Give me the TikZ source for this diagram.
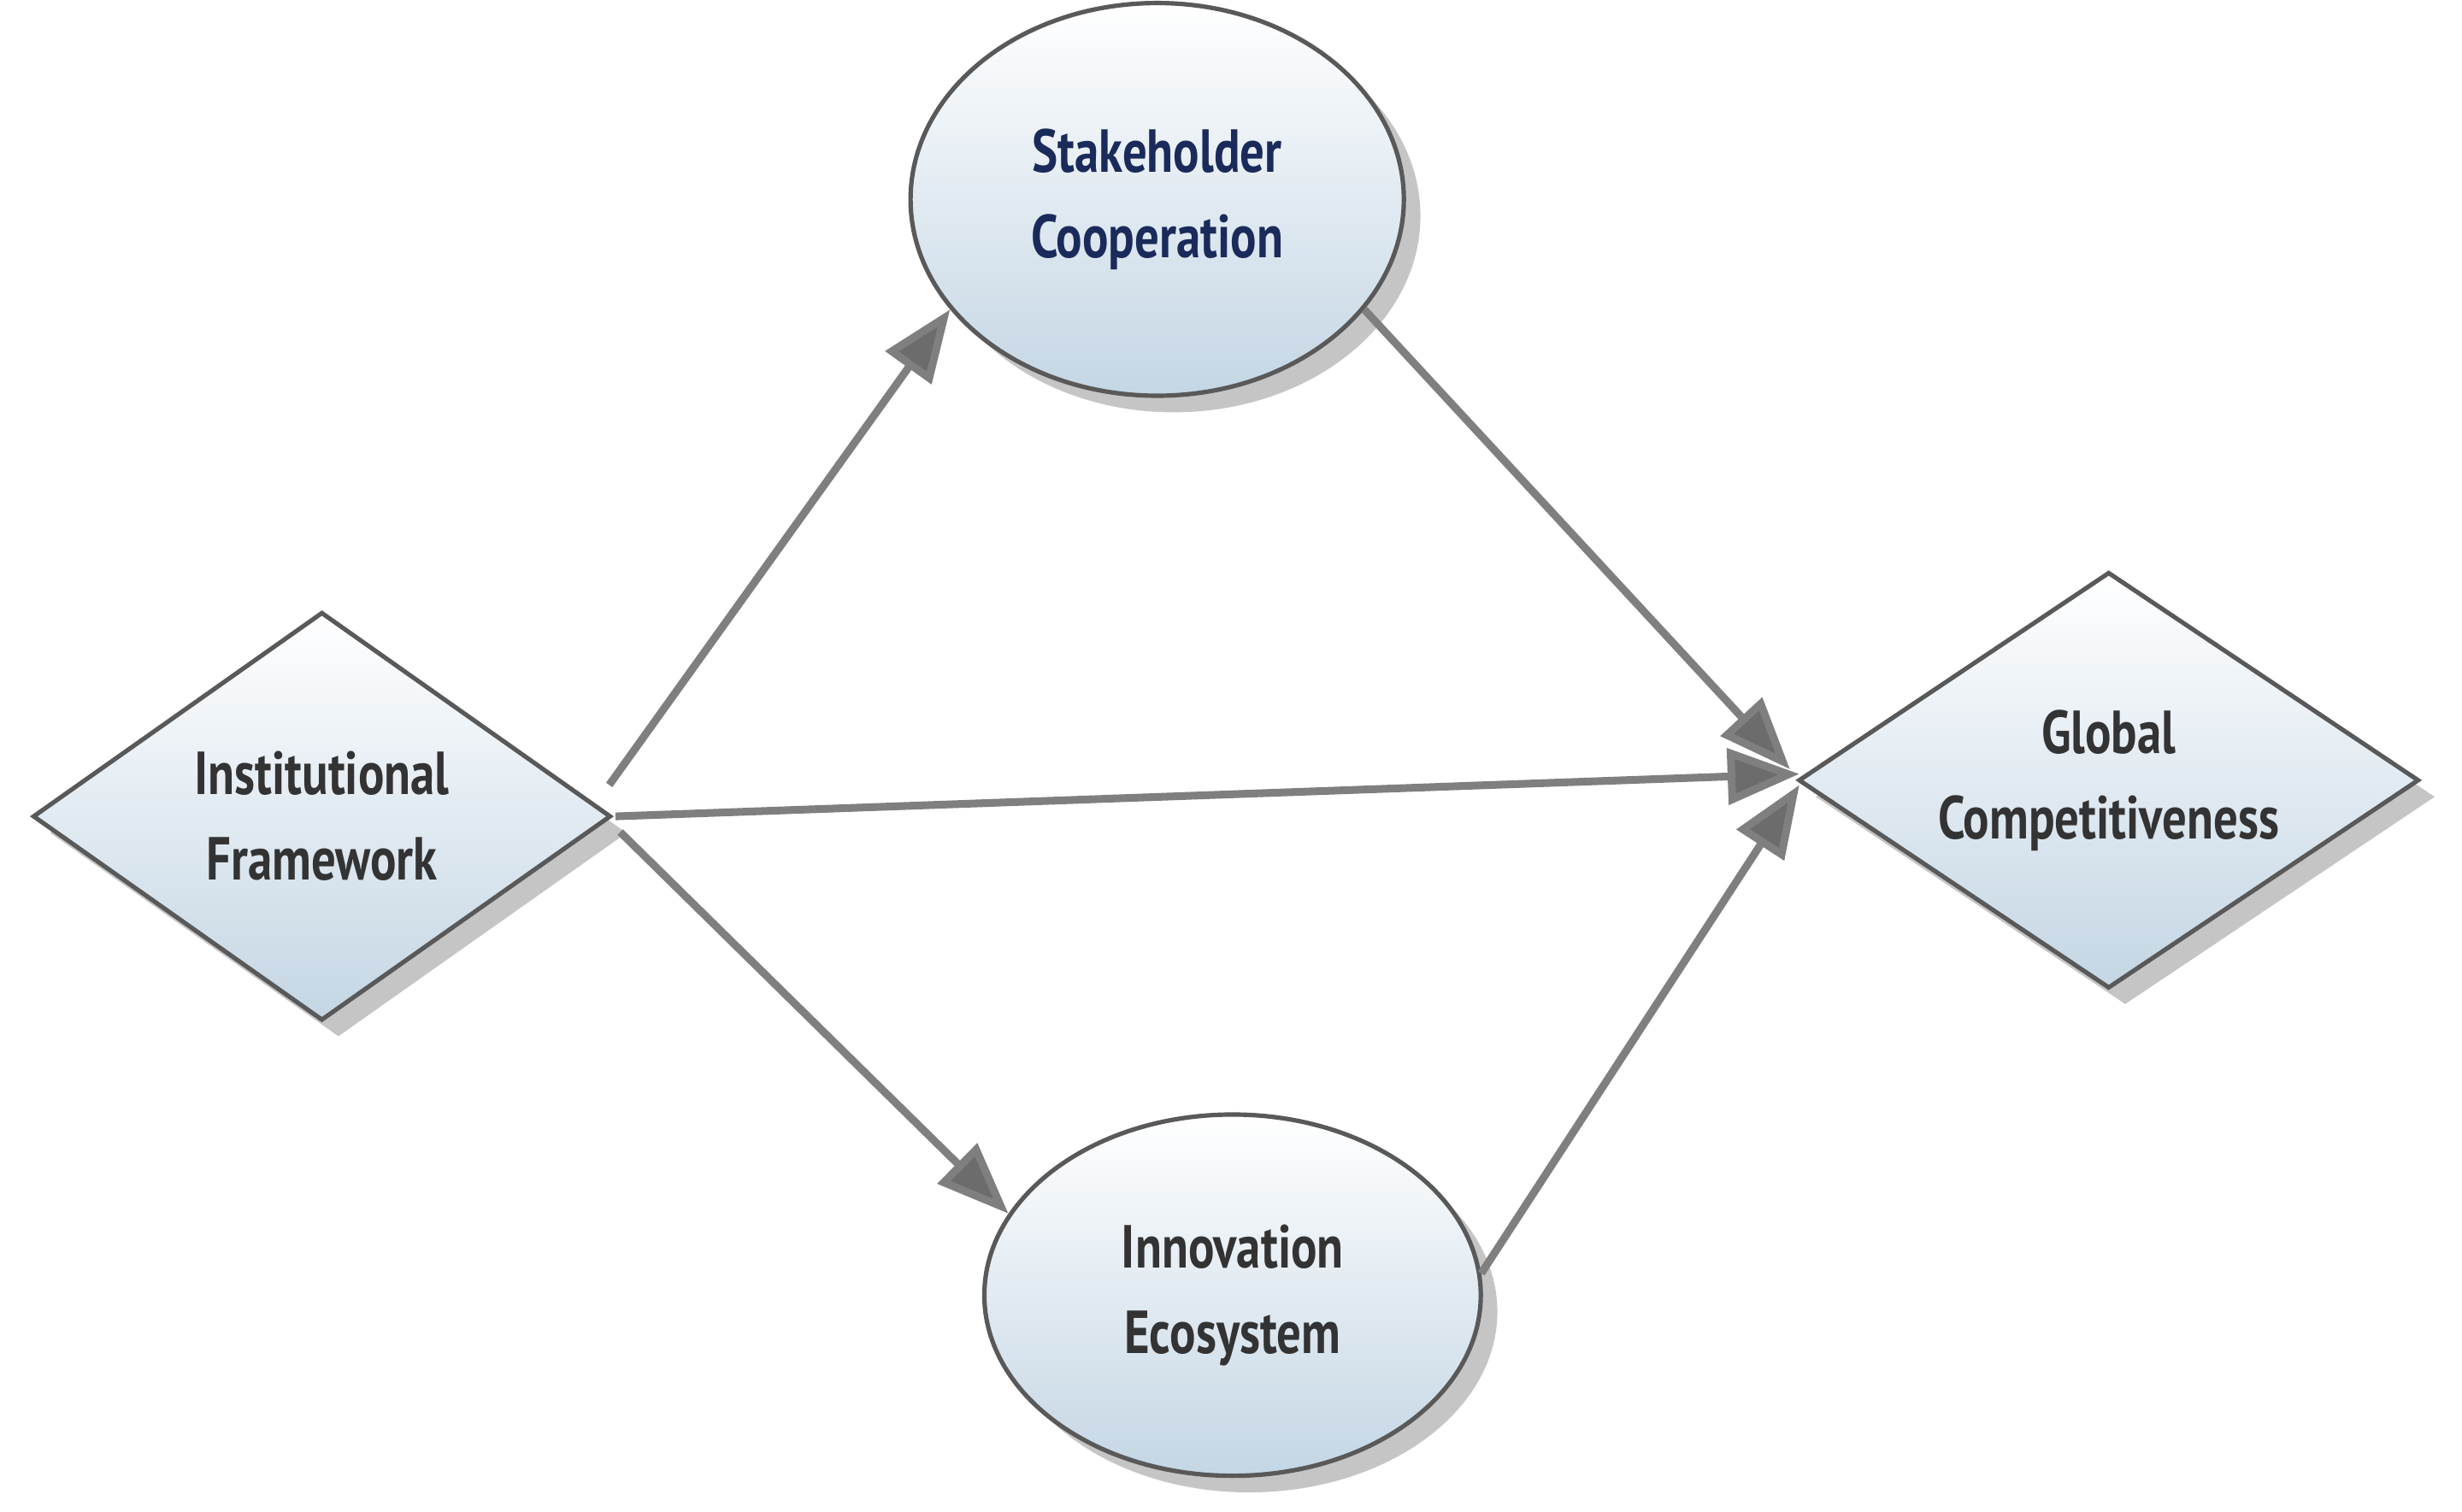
\documentclass[tikz,border=0pt]{standalone}
\usepackage{fontspec}
\setmainfont{PT Sans}[FakeStretch=0.8]
\usetikzlibrary{shapes.geometric,arrows.meta,shadows,calc}
\definecolor{txt}{HTML}{333333}
\definecolor{blu}{HTML}{1A2A5A}
\definecolor{edge}{HTML}{7F7F7F}
\tikzset{
  box/.style={draw=gray!70!black,line width=0.8pt,top color=white,bottom color={rgb,255:red,196;green,214;blue,228},
    drop shadow={shadow xshift=3pt,shadow yshift=-3pt,fill=black!45},
    font=\bfseries\fontsize{11}{15.5}\selectfont,text=txt,align=center,inner sep=0pt},
  dia/.style={box,diamond,aspect=1.4},
  ell/.style={box,ellipse},
  arr/.style={draw=edge,line width=1.4pt,-{Triangle[length=13pt,width=10pt,fill=edge!85!black]}}
}
\begin{document}
\begin{tikzpicture}[x=0.01cm,y=-0.01cm]
\useasboundingbox[fill=white] (0,0) rectangle (1568,963);
\node[dia,minimum width=3.68cm,minimum height=2.6cm] (inst) at (205,520) {Institutional\\Framework};
\node[dia,minimum width=3.95cm,minimum height=2.65cm] (glob) at (1343,497) {Global\\Competitiveness};
\node[ell,minimum width=3.14cm,minimum height=2.5cm,text=blu] (stak) at (737,127) {Stakeholder\\Cooperation};
\node[ell,minimum width=3.16cm,minimum height=2.3cm] (inno) at (785,825) {Innovation\\Ecosystem};
\coordinate (a1) at (388,500);
\coordinate (a2) at (392,520);
\coordinate (a3) at (395,530);
\coordinate (g1) at (1140,490);
\coordinate (g2) at (1146,493);
\coordinate (g3) at (1146,500);
\draw[arr] (a1) -- (stak.208);
\draw[arr] (a2) -- (g2);
\draw[arr] (a3) -- (inno.160);
\draw[arr] (stak.-28) -- (g1);
\draw[arr] (inno.5) -- (g3);
\end{tikzpicture}
\end{document}
